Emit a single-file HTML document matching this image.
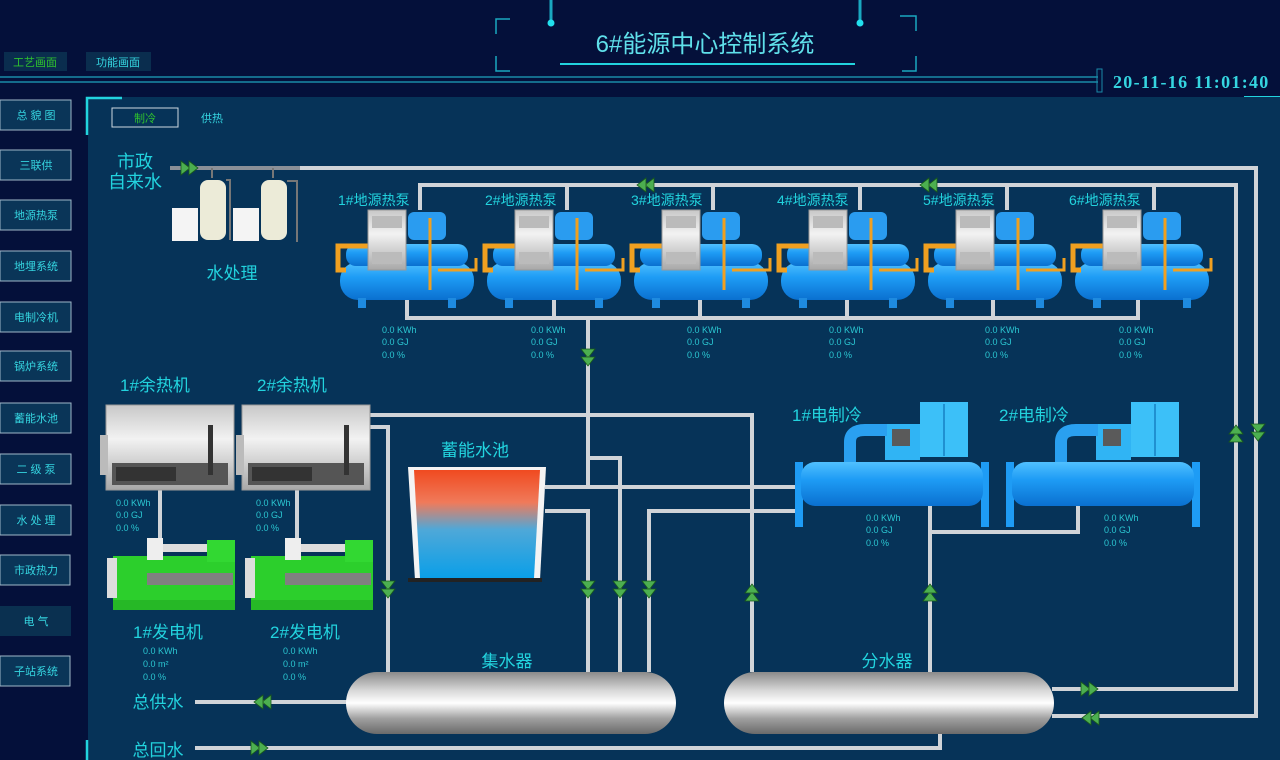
<!DOCTYPE html>
<html><head><meta charset="utf-8"><style>
html,body{margin:0;padding:0;width:1280px;height:760px;overflow:hidden;background:#04103a;}
svg{display:block}
text{font-family:"Liberation Sans","Noto Sans CJK SC",sans-serif;}
.c{fill:#22d3de}
.d{fill:#2bc7d2;font-size:9px}
.p{stroke:#d0d4d8;stroke-width:4;fill:none}
.sb{fill:#0a3558;stroke:#9fb8c8;stroke-width:1}
.st{fill:#35d5e0;font-size:11px;text-anchor:middle}
</style></head><body>
<svg width="1280" height="760" viewBox="0 0 1280 760">
<defs>
<linearGradient id="tank" x1="0" y1="0" x2="0" y2="1">
<stop offset="0" stop-color="#8a8a8a"/><stop offset="0.3" stop-color="#d8d8d8"/><stop offset="0.5" stop-color="#ffffff"/><stop offset="0.75" stop-color="#a0a0a0"/><stop offset="1" stop-color="#6a6a6a"/></linearGradient>
<linearGradient id="pool" x1="0" y1="0" x2="0" y2="1">
<stop offset="0" stop-color="#f04a20"/><stop offset="0.3" stop-color="#f07a5a"/><stop offset="0.55" stop-color="#4fa8d8"/><stop offset="1" stop-color="#0a9fe8"/></linearGradient>
<linearGradient id="blue" x1="0" y1="0" x2="0" y2="1">
<stop offset="0" stop-color="#50c0ff"/><stop offset="0.4" stop-color="#1e9cf5"/><stop offset="1" stop-color="#0a70d0"/></linearGradient>
<linearGradient id="grey" x1="0" y1="0" x2="0" y2="1">
<stop offset="0" stop-color="#c8c8c8"/><stop offset="0.4" stop-color="#f2f2f2"/><stop offset="1" stop-color="#a8a8a8"/></linearGradient>
<g id="ar"><polygon points="-9,-7 0,0 -9,7" fill="#4caf50" stroke="#1a5a1a" stroke-width="0.8"/><polygon points="-1,-7 8,0 -1,7" fill="#4caf50" stroke="#1a5a1a" stroke-width="0.8"/></g>
<g id="hp">
<rect x="2" y="52" width="134" height="38" rx="18" fill="url(#blue)"/>
<rect x="8" y="34" width="122" height="22" rx="10" fill="url(#blue)"/>
<rect x="70" y="2" width="38" height="28" rx="6" fill="#2a9cf0"/>
<path d="M30 36 L0 36 L0 60 L8 60" stroke="#f0a020" stroke-width="5" fill="none"/>
<path d="M92 80 L92 8 M100 60 L138 60 L138 48" stroke="#f0a020" stroke-width="3" fill="none"/>
<rect x="30" y="0" width="38" height="60" fill="url(#grey)" stroke="#999"/>
<rect x="34" y="6" width="30" height="12" fill="#bbb"/><rect x="34" y="42" width="30" height="12" fill="#bbb"/>
<rect x="20" y="88" width="8" height="10" fill="#1e8be0"/><rect x="110" y="88" width="8" height="10" fill="#1e8be0"/>
</g>
<g id="ch">
<rect x="0" y="60" width="8" height="65" fill="#1e9cf5"/><rect x="186" y="60" width="8" height="65" fill="#1e9cf5"/>
<rect x="6" y="60" width="182" height="44" rx="14" fill="url(#blue)"/>
<rect x="125" y="0" width="48" height="55" fill="#3cc0f8"/><rect x="148" y="2" width="2" height="52" fill="#2090d0"/>
<rect x="90" y="22" width="35" height="36" fill="#30b4f4"/><rect x="97" y="27" width="18" height="17" fill="#5a5a5a"/>
<path d="M55 60 L55 40 Q55 28 70 28 L92 28" stroke="#2aa0f0" stroke-width="12" fill="none"/>
</g>
<g id="ht"><rect x="0" y="0" width="128" height="85" fill="url(#grey)" stroke="#999"/><rect x="-6" y="30" width="8" height="40" fill="#bbb"/><rect x="6" y="58" width="116" height="22" fill="#555"/><rect x="10" y="62" width="60" height="14" fill="#333"/><rect x="102" y="20" width="5" height="50" fill="#333"/></g>
<g id="gn"><rect x="6" y="18" width="122" height="54" fill="#2ccf2c"/><rect x="40" y="35" width="86" height="12" fill="#808080"/><rect x="0" y="20" width="10" height="40" fill="#ddd"/><rect x="40" y="0" width="16" height="22" fill="#eee"/><rect x="56" y="6" width="60" height="8" fill="#ddd"/><rect x="100" y="2" width="28" height="22" fill="#32d832"/><rect x="6" y="62" width="122" height="10" fill="#26b826"/></g>
</defs>

<!-- header -->
<rect width="1280" height="97" fill="#04103a"/>
<rect x="4" y="52" width="63" height="19" fill="#0a2d4e"/><text x="35" y="66" font-size="11" fill="#2ec22e" text-anchor="middle">工艺画面</text>
<rect x="86" y="52" width="65" height="19" fill="#0a2d4e"/><text x="118" y="66" font-size="11" fill="#35d5e0" text-anchor="middle">功能画面</text>
<line x1="0" y1="77" x2="1098" y2="77" stroke="#1a8aa8" stroke-width="1.5"/>
<line x1="0" y1="82" x2="1098" y2="82" stroke="#1a8aa8" stroke-width="1.5"/>
<rect x="1097" y="69" width="5" height="23" fill="none" stroke="#1a8aa8"/>
<text x="1113" y="88" font-weight="bold" font-size="18" letter-spacing="1.3" fill="#35d5e0" style="font-family:'Liberation Serif',serif">20-11-16 11:01:40</text>
<line x1="1244" y1="97" x2="1280" y2="97" stroke="#22d3de" stroke-width="2"/>
<path d="M510 19 L496 19 L496 34 M496 56 L496 71 L510 71" stroke="#1aa8c0" fill="none" stroke-width="1.5"/>
<path d="M900 16 L916 16 L916 31 M916 56 L916 71 L902 71" stroke="#1aa8c0" fill="none" stroke-width="1.5"/>
<line x1="551" y1="0" x2="551" y2="22" stroke="#1aa8c0" stroke-width="3"/><circle cx="551" cy="23" r="3.5" fill="#22e0ee"/>
<line x1="860" y1="0" x2="860" y2="22" stroke="#1aa8c0" stroke-width="3"/><circle cx="860" cy="23" r="3.5" fill="#22e0ee"/>
<text x="705" y="52" font-size="24" fill="#5fe0ea" text-anchor="middle">6#能源中心控制系统</text>
<line x1="560" y1="64" x2="855" y2="64" stroke="#22d3de" stroke-width="2"/>

<!-- sidebar -->
<rect x="0" y="100" width="71" height="30" class="sb"/><text x="36" y="119" class="st">总 貌 图</text>
<rect x="0" y="150" width="71" height="30" class="sb"/><text x="36" y="169" class="st">三联供</text>
<rect x="0" y="200" width="71" height="30" class="sb"/><text x="36" y="219" class="st">地源热泵</text>
<rect x="0" y="251" width="71" height="30" class="sb"/><text x="36" y="270" class="st">地埋系统</text>
<rect x="0" y="302" width="71" height="30" class="sb"/><text x="36" y="321" class="st">电制冷机</text>
<rect x="0" y="351" width="71" height="30" class="sb"/><text x="36" y="370" class="st">锅炉系统</text>
<rect x="0" y="403" width="71" height="30" class="sb"/><text x="36" y="422" class="st">蓄能水池</text>
<rect x="0" y="454" width="71" height="30" class="sb"/><text x="36" y="473" class="st">二 级 泵</text>
<rect x="0" y="505" width="71" height="30" class="sb"/><text x="36" y="524" class="st">水 处 理</text>
<rect x="0" y="555" width="70" height="30" class="sb"/><text x="36" y="574" class="st">市政热力</text>
<rect x="0" y="606" width="71" height="30" fill="#0a3050"/><text x="36" y="625" class="st">电 气</text>
<rect x="0" y="656" width="70" height="30" class="sb"/><text x="36" y="675" class="st">子站系统</text>

<!-- main panel -->
<rect x="88" y="97" width="1192" height="663" fill="#063358"/>
<path d="M87 135 L87 98 L122 98" stroke="#22d3de" stroke-width="2.5" fill="none"/>
<line x1="87" y1="740" x2="87" y2="760" stroke="#22d3de" stroke-width="2.5"/>
<rect x="112" y="108" width="66" height="19" fill="none" stroke="#cfd8e0"/>
<text x="145" y="122" font-size="11" fill="#2ec22e" text-anchor="middle">制冷</text>
<text x="212" y="122" font-size="11" fill="#35d5e0" text-anchor="middle">供热</text>

<!-- pipes -->
<g class="p">
<path d="M170 168 L1256 168 L1256 716 L1052 716"/>
<path d="M420 210 L420 185 L1236 185 L1236 689 L1052 689"/>
<path d="M567 210 L567 185 M713 210 L713 185 M860 210 L860 185 M1007 210 L1007 185 M1154 210 L1154 185"/>
<path d="M407 298 L407 318 L1138 318 L1138 298 M554 298 L554 318 M700 298 L700 318 M847 298 L847 318 M993 298 L993 318"/>
<path d="M588 318 L588 487 M545 487 L795 487"/>
<path d="M588 458 L620 458 L620 672"/>
<path d="M545 511 L588 511 L588 672"/>
<path d="M795 511 L649 511 L649 672"/>
<path d="M368 415 L752 415 L752 672"/>
<path d="M368 427 L388 427 L388 672"/>
<path d="M930 505 L930 672 M930 532 L1078 532 L1078 505"/>
<path d="M195 748 L940 748 L940 733"/>
<path d="M195 702 L348 702"/>
<path d="M160 490 L160 540 M297 490 L297 540"/>
</g>
<line x1="170" y1="168" x2="300" y2="168" stroke="#8a9098" stroke-width="4"/>

<!-- water treatment -->
<rect x="172" y="208" width="26" height="33" fill="#f4f4f4"/>
<rect x="200" y="180" width="26" height="60" rx="8" fill="#ecebd8"/>
<rect x="233" y="208" width="26" height="33" fill="#f4f4f4"/>
<rect x="261" y="180" width="26" height="60" rx="8" fill="#ecebd8"/>
<path d="M212 168 L212 178 M273 168 L273 178 M226 180 L230 180 L230 240 M287 181 L297 181 L297 242" stroke="#777" stroke-width="2" fill="none"/>
<text x="232" y="279" font-size="17" class="c" text-anchor="middle">水处理</text>
<text x="135" y="168" font-size="18" class="c" text-anchor="middle">市政</text>
<text x="135" y="188" font-size="18" class="c" text-anchor="middle">自来水</text>

<!-- heat pumps -->
<g font-size="14">
<text x="338" y="205" class="c">1#地源热泵</text><text x="485" y="205" class="c">2#地源热泵</text><text x="631" y="205" class="c">3#地源热泵</text><text x="777" y="205" class="c">4#地源热泵</text><text x="923" y="205" class="c">5#地源热泵</text><text x="1069" y="205" class="c">6#地源热泵</text>
</g>
<use href="#hp" x="338" y="210"/><use href="#hp" x="485" y="210"/><use href="#hp" x="632" y="210"/><use href="#hp" x="779" y="210"/><use href="#hp" x="926" y="210"/><use href="#hp" x="1073" y="210"/>
<g class="d">
<text x="382" y="333">0.0  KWh</text><text x="382" y="345">0.0  GJ</text><text x="382" y="358">0.0  %</text>
<text x="531" y="333">0.0  KWh</text><text x="531" y="345">0.0  GJ</text><text x="531" y="358">0.0  %</text>
<text x="687" y="333">0.0  KWh</text><text x="687" y="345">0.0  GJ</text><text x="687" y="358">0.0  %</text>
<text x="829" y="333">0.0  KWh</text><text x="829" y="345">0.0  GJ</text><text x="829" y="358">0.0  %</text>
<text x="985" y="333">0.0  KWh</text><text x="985" y="345">0.0  GJ</text><text x="985" y="358">0.0  %</text>
<text x="1119" y="333">0.0  KWh</text><text x="1119" y="345">0.0  GJ</text><text x="1119" y="358">0.0  %</text>
</g>

<!-- heat recovery & generators -->
<text x="120" y="391" font-size="17" class="c">1#余热机</text><text x="257" y="391" font-size="17" class="c">2#余热机</text>
<use href="#ht" x="106" y="405"/><use href="#ht" x="242" y="405"/>
<g class="d">
<text x="116" y="506">0.0  KWh</text><text x="116" y="518">0.0  GJ</text><text x="116" y="531">0.0  %</text>
<text x="256" y="506">0.0  KWh</text><text x="256" y="518">0.0  GJ</text><text x="256" y="531">0.0  %</text>
</g>
<use href="#gn" x="107" y="538"/><use href="#gn" x="245" y="538"/>
<text x="133" y="638" font-size="17" class="c">1#发电机</text><text x="270" y="638" font-size="17" class="c">2#发电机</text>
<g class="d">
<text x="143" y="654">0.0  KWh</text><text x="143" y="667">0.0  m²</text><text x="143" y="680">0.0  %</text>
<text x="283" y="654">0.0  KWh</text><text x="283" y="667">0.0  m²</text><text x="283" y="680">0.0  %</text>
</g>

<!-- storage pool -->
<text x="475" y="456" font-size="17" class="c" text-anchor="middle">蓄能水池</text>
<polygon points="408,467 546,467 540,580 415,580" fill="#f4f4f4"/>
<polygon points="414,470 540,470 534,578 420,578" fill="url(#pool)"/>
<rect x="408" y="578" width="134" height="4" fill="#222"/>

<!-- chillers -->
<text x="792" y="421" font-size="17" class="c">1#电制冷</text><text x="999" y="421" font-size="17" class="c">2#电制冷</text>
<use href="#ch" x="795" y="402"/><use href="#ch" x="1006" y="402"/>
<g class="d">
<text x="866" y="521">0.0  KWh</text><text x="866" y="533">0.0  GJ</text><text x="866" y="546">0.0  %</text>
<text x="1104" y="521">0.0  KWh</text><text x="1104" y="533">0.0  GJ</text><text x="1104" y="546">0.0  %</text>
</g>

<!-- headers -->
<text x="507" y="667" font-size="17" class="c" text-anchor="middle">集水器</text>
<text x="887" y="667" font-size="17" class="c" text-anchor="middle">分水器</text>
<rect x="346" y="672" width="330" height="62" rx="31" fill="url(#tank)"/>
<rect x="724" y="672" width="330" height="62" rx="31" fill="url(#tank)"/>
<text x="158" y="708" font-size="17" class="c" text-anchor="middle">总供水</text>
<text x="158" y="756" font-size="17" class="c" text-anchor="middle">总回水</text>

<!-- arrows -->
<use href="#ar" transform="translate(190,168)"/>
<use href="#ar" transform="translate(645,185) rotate(180)"/>
<use href="#ar" transform="translate(928,185) rotate(180)"/>
<use href="#ar" transform="translate(588,358) rotate(90)"/>
<use href="#ar" transform="translate(388,590) rotate(90)"/>
<use href="#ar" transform="translate(588,590) rotate(90)"/>
<use href="#ar" transform="translate(620,590) rotate(90)"/>
<use href="#ar" transform="translate(649,590) rotate(90)"/>
<use href="#ar" transform="translate(752,592) rotate(-90)"/>
<use href="#ar" transform="translate(930,592) rotate(-90)"/>
<use href="#ar" transform="translate(1236,433) rotate(-90)"/>
<use href="#ar" transform="translate(1258,433) rotate(90)"/>
<use href="#ar" transform="translate(1090,689)"/>
<use href="#ar" transform="translate(1090,718) rotate(180)"/>
<use href="#ar" transform="translate(262,702) rotate(180)"/>
<use href="#ar" transform="translate(260,748)"/>
</svg>
</body></html>
